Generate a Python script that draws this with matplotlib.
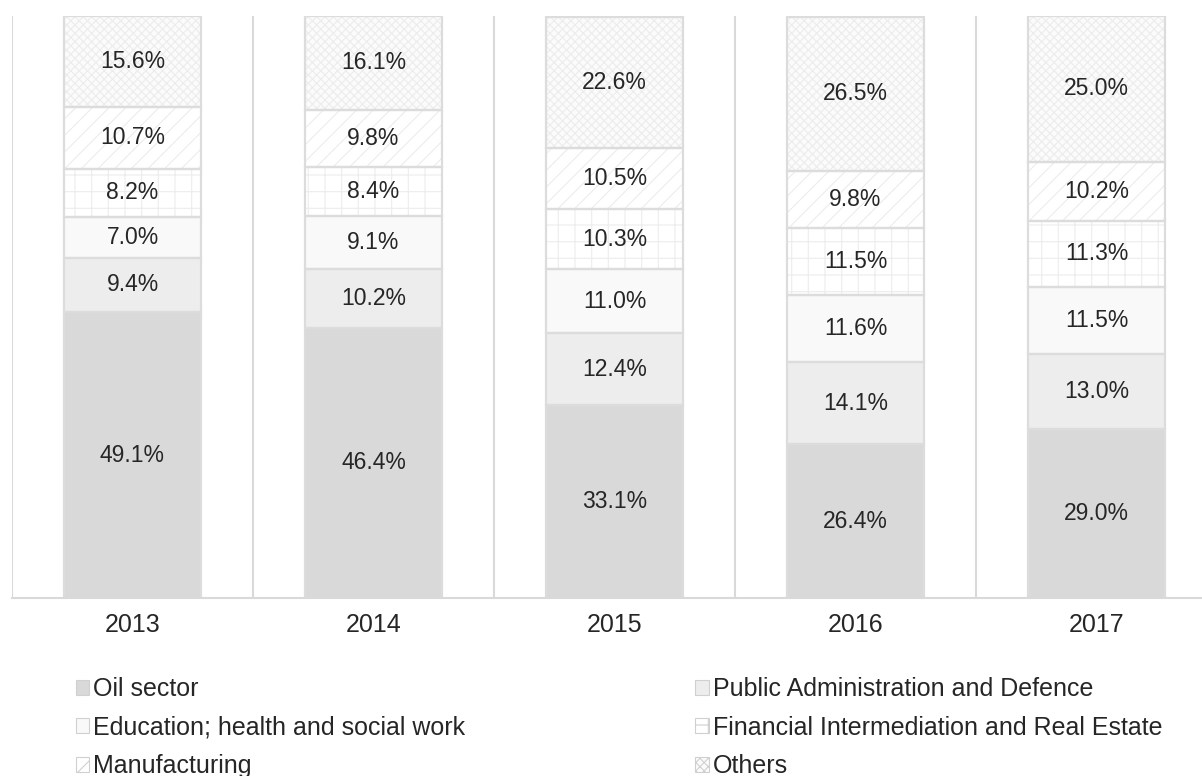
import matplotlib
matplotlib.use("Agg")
import matplotlib.pyplot as plt
from matplotlib.patches import Patch
import numpy as np

years = ["2013", "2014", "2015", "2016", "2017"]
oil = [49.1, 46.4, 33.1, 26.4, 29.0]
public_admin = [9.4, 10.2, 12.4, 14.1, 13.0]
education = [7.0, 9.1, 11.0, 11.6, 11.5]
financial = [8.2, 8.4, 10.3, 11.5, 11.3]
manufacturing = [10.7, 9.8, 10.5, 9.8, 10.2]
others = [15.6, 16.1, 22.6, 26.5, 25.0]

series = [
    ("Oil sector", oil, "#d9d9d9", None),
    ("Public Administration and Defence", public_admin, "#ededed", None),
    ("Education; health and social work", education, "#f9f9f9", None),
    ("Financial Intermediation and Real Estate", financial, "#ffffff", "+"),
    ("Manufacturing", manufacturing, "#ffffff", "//"),
    ("Others", others, "#fbfbfb", "xxxx"),
]

plt.rcParams["font.family"] = ["Liberation Sans", "DejaVu Sans"]
plt.rcParams["hatch.linewidth"] = 0.8

fig = plt.figure(figsize=(12.02, 7.76), dpi=100)
ax = fig.add_axes([12 / 1202, 178 / 776, 1205 / 1202, 582 / 776])

x = np.arange(len(years))
bottom = np.zeros(len(years))
handles = {}
for name, vals, color, hatch in series:
    vals = np.array(vals)
    ax.bar(x, vals, width=0.565, bottom=bottom, color=color,
           edgecolor="#ececec", linewidth=0, hatch=hatch, zorder=2)
    ax.bar(x, vals, width=0.565, bottom=bottom, fill=False,
           edgecolor="#dcdcdc", linewidth=1.6, zorder=2.5)
    for xi, b, v in zip(x, bottom, vals):
        ax.text(xi, b + v / 2, f"{v:.1f}%", ha="center", va="center",
                fontsize=16.5, color="#262626", zorder=3)
    handles[name] = Patch(facecolor=color, edgecolor="#d0d0d0", hatch=hatch, linewidth=0.8)
    bottom += vals

ax.set_xlim(-0.5, 4.5)
ax.set_ylim(0, 100)
for b in np.arange(-0.5, 4.5, 1.0):
    ax.axvline(b, color="#d9d9d9", linewidth=1.5, zorder=1)
for s in ["top", "right", "left"]:
    ax.spines[s].set_visible(False)
ax.spines["bottom"].set_color("#d9d9d9")
ax.spines["bottom"].set_linewidth(1.5)
ax.set_yticks([])
ax.set_xticks(x)
ax.set_xticklabels(years, fontsize=18, color="#262626")
ax.tick_params(axis="x", length=0, pad=11)

order = ["Oil sector", "Education; health and social work", "Manufacturing",
         "Public Administration and Defence", "Financial Intermediation and Real Estate", "Others"]
fig.legend([handles[n] for n in order], order, ncol=2, loc="upper left",
           bbox_to_anchor=(53 / 1202, 1 - 655 / 776), frameon=False,
           fontsize=18, handlelength=0.55, handleheight=0.55, handletextpad=0.15,
           columnspacing=9.2, labelspacing=0.57, labelcolor="#262626")

fig.savefig("out.png", dpi=100)
